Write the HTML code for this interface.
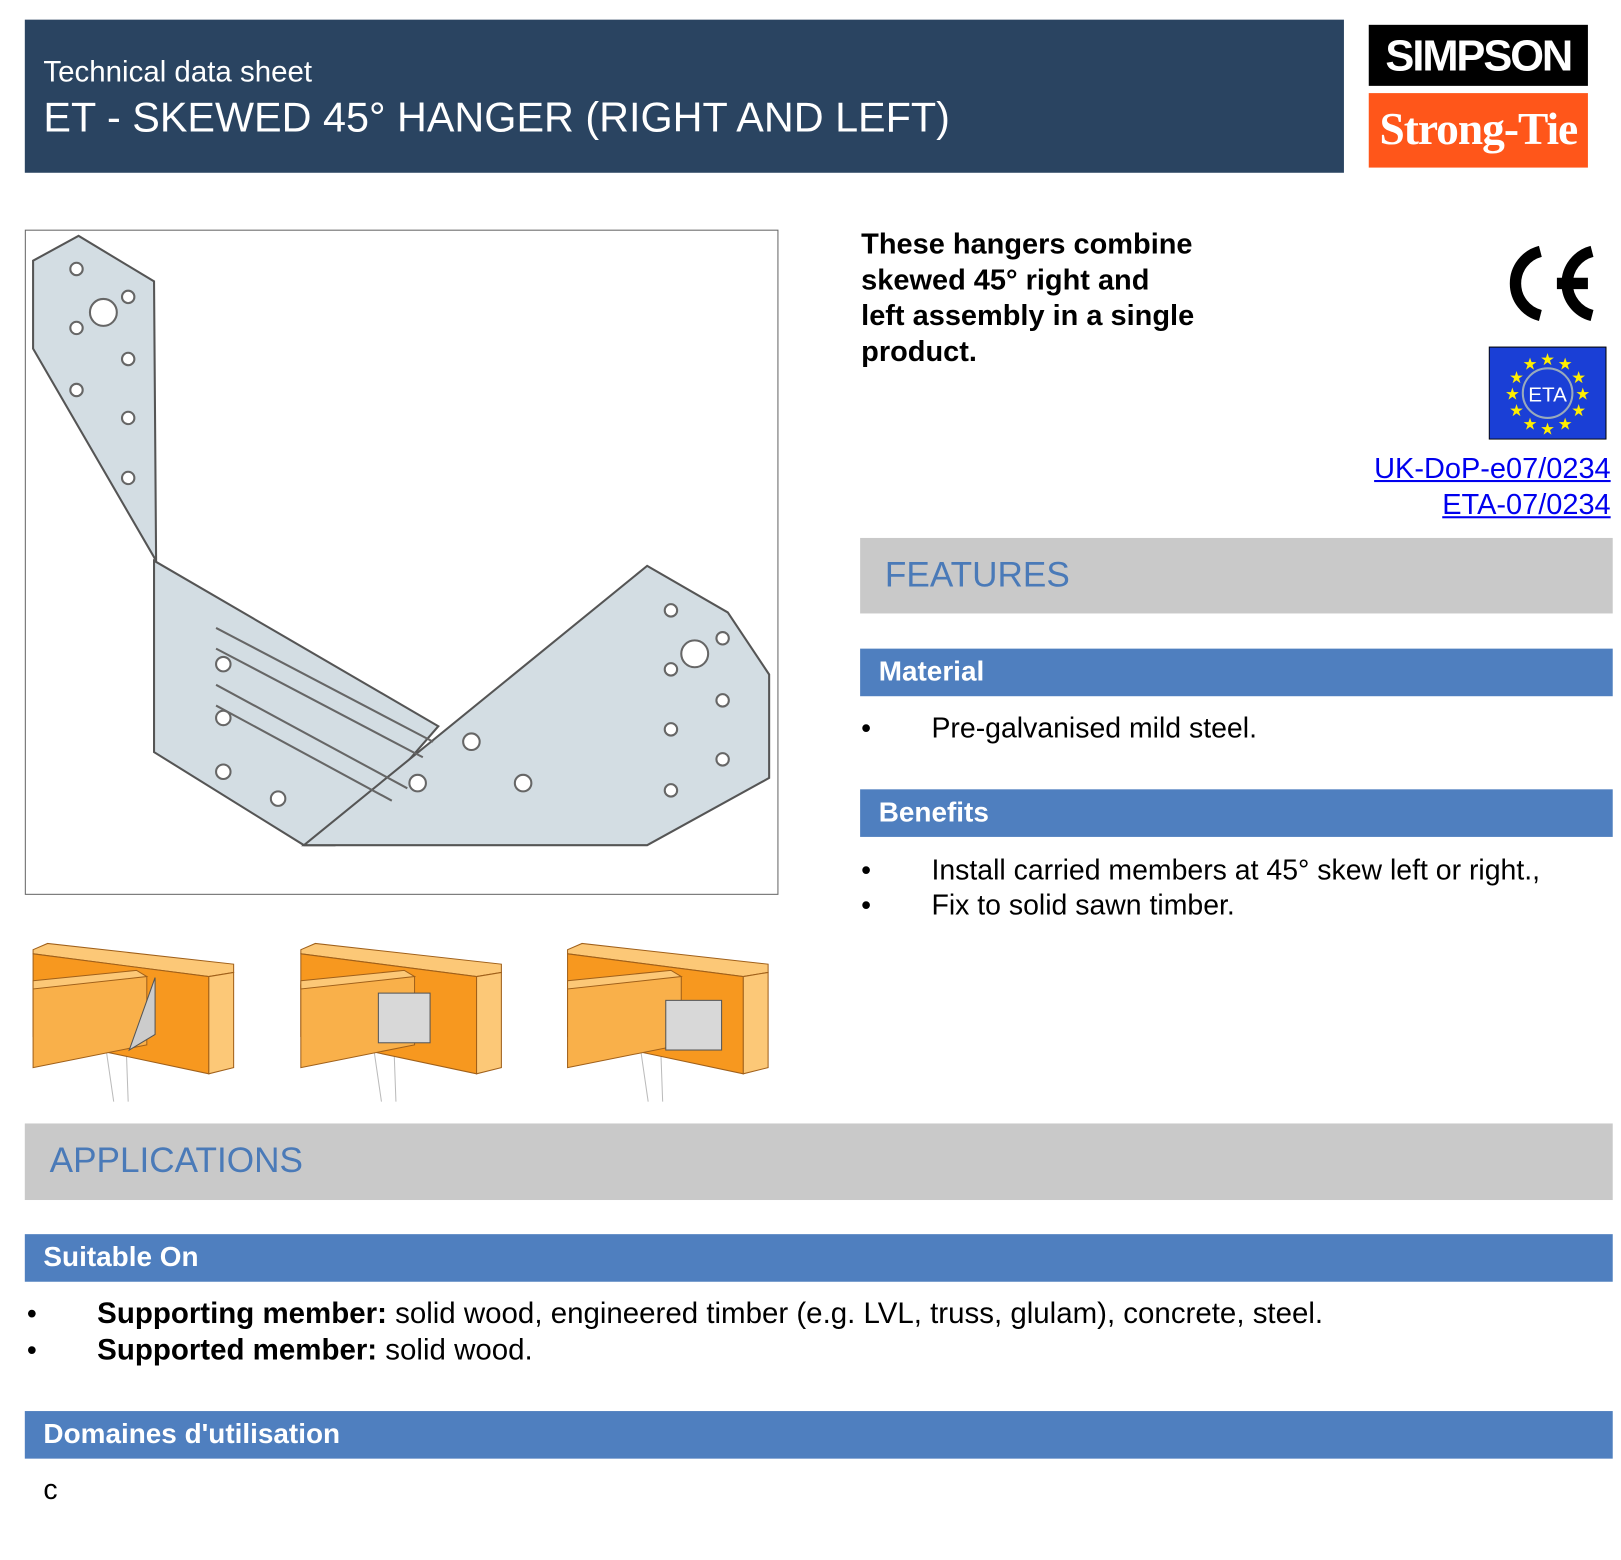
<!DOCTYPE html>
<html><head><meta charset="utf-8"><style>
html,body{margin:0;padding:0;background:#fff;}
body{width:1621px;height:1560px;overflow:hidden;position:relative;}
#w{position:absolute;left:0;top:0;width:1568px;height:1508px;transform:scale(1.0338,1.0345);transform-origin:0 0;font-family:"Liberation Sans",Arial,sans-serif;}
.a{position:absolute;}
.band{position:absolute;background:#4f7fbf;color:#fff;font-weight:bold;font-size:27px;line-height:44px;padding-left:18px;box-sizing:border-box;}
.gray{position:absolute;background:#c9c9c9;color:#4a7ab8;font-size:34px;line-height:72px;padding-left:24px;box-sizing:border-box;}
.t{position:absolute;font-size:27.5px;color:#000;white-space:nowrap;line-height:30px;}
a{color:#0000ee;text-decoration:underline;}
</style></head><body><div id="w">
<div class="a" style="left:24px;top:19px;width:1276px;height:148px;background:#2a4461;"></div>
<div class="a" style="left:42px;top:54px;color:#fff;font-size:28.5px;">Technical data sheet</div>
<div class="a" style="left:42px;top:92px;color:#fff;font-size:40px;">ET - SKEWED 45° HANGER (RIGHT AND LEFT)</div>
<div class="a" style="left:1324px;top:24px;width:212px;height:59px;background:#000;color:#fff;font-weight:bold;font-size:42px;text-align:center;line-height:59px;letter-spacing:-2px;">SIMPSON</div>
<div class="a" style="left:1324px;top:90px;width:212px;height:72px;background:#ff561a;color:#fff;font-family:'Liberation Serif',serif;font-weight:bold;font-size:44px;text-align:center;line-height:70px;letter-spacing:-1px;">Strong-Tie</div>

<div class="a" style="left:24px;top:222px;width:727px;height:641px;border:1.5px solid #666;"></div>
<svg class="a" style="left:24px;top:222px" width="730" height="644">
<g fill="#d3dde3" stroke="#555" stroke-width="2">
<polygon points="8,30 52,6 125,50 127,320 8,115"/>
<polygon points="125,320 400,480 300,595 270,595 125,505"/>
<polygon points="270,595 602,325 680,370 720,430 720,530 602,595"/>
</g>
<g fill="#fff" stroke="#666" stroke-width="2">
<circle cx="76" cy="80" r="13"/><circle cx="50" cy="38" r="6"/><circle cx="100" cy="65" r="6"/><circle cx="50" cy="95" r="6"/><circle cx="100" cy="125" r="6"/><circle cx="50" cy="155" r="6"/><circle cx="100" cy="182" r="6"/><circle cx="100" cy="240" r="6"/>
<circle cx="648" cy="410" r="13"/><circle cx="625" cy="368" r="6"/><circle cx="675" cy="395" r="6"/><circle cx="625" cy="425" r="6"/><circle cx="675" cy="455" r="6"/><circle cx="625" cy="483" r="6"/><circle cx="675" cy="512" r="6"/><circle cx="625" cy="542" r="6"/>
<circle cx="380" cy="535" r="8"/><circle cx="482" cy="535" r="8"/><circle cx="432" cy="495" r="8"/>
<circle cx="192" cy="420" r="7"/><circle cx="192" cy="472" r="7"/><circle cx="192" cy="524" r="7"/><circle cx="245" cy="550" r="7"/>
</g>
<g fill="none" stroke="#666" stroke-width="2"><path d="M185,385 L395,495"/><path d="M185,405 L385,510"/><path d="M185,440 L370,540"/><path d="M185,460 L355,552"/></g>
</svg>

<div class="t" style="left:833px;top:219px;font-weight:bold;font-size:28px;line-height:34.5px;">These hangers combine<br>skewed 45° right and<br>left assembly in a single<br>product.</div>
<svg class="a" style="left:1448px;top:235px" width="100" height="78"><g fill="none" stroke="#000" stroke-width="11"><path d="M42,8 A32,32 0 0 0 42,70"/><path d="M92,8 A32,32 0 0 0 92,70 M58,39 H88"/></g></svg>
<svg class="a" style="left:1440px;top:335px" width="114" height="90"><rect x="0.5" y="0.5" width="113" height="89" fill="#1a3fd6" stroke="#000"/><circle cx="57" cy="45" r="24" fill="none" stroke="#9ab" stroke-width="2"/><text x="57" y="53" font-size="20" fill="#fff" text-anchor="middle" font-family="Liberation Sans">ETA</text>
<g fill="#ffee00" font-size="16" text-anchor="middle"><text x="57" y="18">★</text><text x="40" y="22">★</text><text x="74" y="22">★</text><text x="27" y="35">★</text><text x="87" y="35">★</text><text x="23" y="51">★</text><text x="91" y="51">★</text><text x="27" y="67">★</text><text x="87" y="67">★</text><text x="40" y="80">★</text><text x="74" y="80">★</text><text x="57" y="85">★</text></g></svg>
<div class="t" style="right:10px;top:436px;text-align:right;line-height:34.5px;font-size:28px;"><a>UK-DoP-e07/0234</a><br><a>ETA-07/0234</a></div>

<div class="gray" style="left:832px;top:520px;width:728px;height:73px;">FEATURES</div>
<div class="band" style="left:832px;top:627px;width:728px;height:46px;">Material</div>
<div class="t" style="left:833px;top:689px;">•</div><div class="t" style="left:901px;top:689px;">Pre-galvanised mild steel.</div>
<div class="band" style="left:832px;top:763px;width:728px;height:46px;">Benefits</div>
<div class="t" style="left:833px;top:826px;">•</div><div class="t" style="left:901px;top:826px;">Install carried members at 45° skew left or right.,</div>
<div class="t" style="left:833px;top:860px;">•</div><div class="t" style="left:901px;top:860px;">Fix to solid sawn timber.</div>

<svg class="a" style="left:0;top:905px" width="800" height="160">
<defs><g id="th">
<path d="M70,100 L78,155 M90,100 L92,155" stroke="#bbb" fill="none"/>
<polygon points="0,8 14,2 194,22 194,30 170,34 0,12" fill="#fcc877" stroke="#a0601a"/>
<polygon points="0,12 170,34 170,128 0,92" fill="#f7981f" stroke="#a0601a"/>
<polygon points="170,34 194,30 194,122 170,128" fill="#fcc877" stroke="#a0601a"/>
<polygon points="0,42 100,30 110,34 110,100 0,122" fill="#f9b04a" stroke="#a0601a"/>
<polygon points="0,38 100,28 110,34 0,46" fill="#fcc877" stroke="#a0601a"/>
</g></defs>
<use href="#th" x="32" y="5"/>
<polygon points="150,40 125,110 150,95" fill="#ccc" stroke="#555"/>
<use href="#th" x="291" y="5"/>
<rect x="366" y="55" width="50" height="48" fill="#d8d8d8" stroke="#555"/>
<use href="#th" x="549" y="5"/>
<rect x="644" y="62" width="54" height="48" fill="#d8d8d8" stroke="#555"/>
</svg>

<div class="gray" style="left:24px;top:1086px;width:1536px;height:74px;">APPLICATIONS</div>
<div class="band" style="left:24px;top:1193px;width:1536px;height:46px;">Suitable On</div>
<div class="t" style="left:26px;top:1255px;">•</div><div class="t" style="left:94px;top:1255px;font-size:28.5px;"><b>Supporting member:</b> solid wood, engineered timber (e.g. LVL, truss, glulam), concrete, steel.</div>
<div class="t" style="left:26px;top:1290px;">•</div><div class="t" style="left:94px;top:1290px;font-size:28.5px;"><b>Supported member:</b> solid wood.</div>
<div class="band" style="left:24px;top:1364px;width:1536px;height:46px;">Domaines d'utilisation</div>
<div class="t" style="left:42px;top:1425px;">c</div>
</div></body></html>
